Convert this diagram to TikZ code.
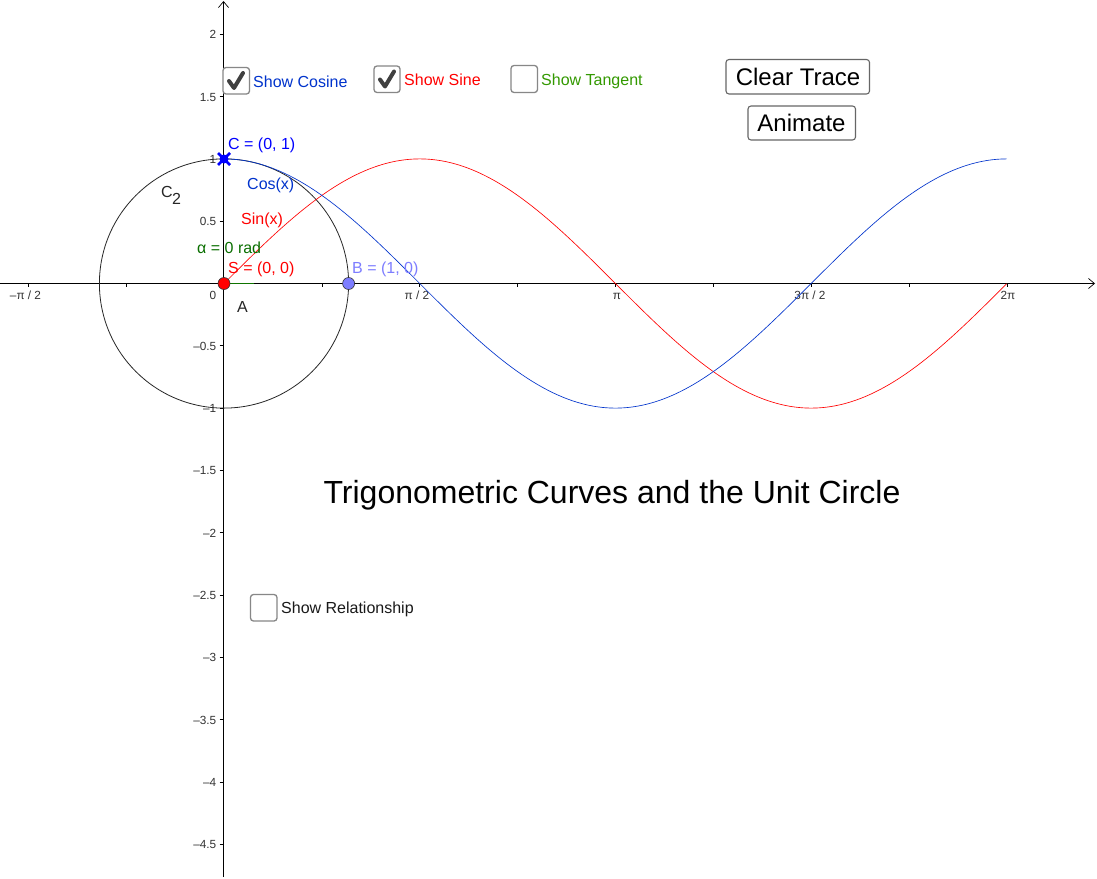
\documentclass[tikz,border=0pt]{standalone}
\usepackage{fontspec}
\usetikzlibrary{arrows.meta}
\setmainfont{Liberation Sans}
\definecolor{cosblue}{RGB}{0,51,204}
\definecolor{sinred}{RGB}{255,0,0}
\definecolor{tangreen}{RGB}{51,153,0}
\definecolor{anggreen}{RGB}{0,100,0}
\definecolor{pointb}{RGB}{125,125,255}
\definecolor{boxgray}{RGB}{135,135,135}
\definecolor{checkgray}{RGB}{64,64,64}
\begin{document}
\begin{tikzpicture}[x=1pt,y=-1pt,
  axisline/.style={black,line width=1pt,-{Straight Barb[length=6pt,width=10pt,line width=0.7pt]}},
  tickmark/.style={black,line width=0.7pt},
  ticktext/.style={font=\fontsize{11.8}{13}\selectfont,text=black!80,inner sep=0pt},
  lab/.style={font=\fontsize{16}{18}\selectfont,inner sep=0pt,anchor=west},
  curve/.style={line width=0.65pt,line join=round},
  cbox/.style={draw=boxgray,line width=1.3pt,rounded corners=3pt,fill=white},
  btn/.style={draw=black!60,line width=1.1pt,rounded corners=3pt,fill=white},
  btext/.style={font=\fontsize{24}{26}\selectfont,inner sep=0pt},
  checkm/.style={draw=checkgray,line width=4pt,line cap=round,line join=round},
  ptdot/.style={circle,draw=black!80,line width=0.6pt,minimum size=12pt,inner sep=0pt}
]
\useasboundingbox (0,0) rectangle (1097,878);
\fill[white] (0,0) rectangle (1097,878);
\def\Ox{224}\def\Oy{283.5}\def\U{124.6}

% axes
\coordinate (xstart) at (0,283.5);
\coordinate (xend) at (1095,283.5);
\coordinate (ystart) at (223.5,877);
\coordinate (yend) at (223.5,1);
\draw[axisline] (xstart) -- (xend);
\draw[axisline] (ystart) -- (yend);

% x ticks
\foreach \k in {-2,-1,1,2,...,8}
  \draw[tickmark] ({\Ox+\k*0.7854*\U},283.5) -- ({\Ox+\k*0.7854*\U},286.5);
% y ticks
\foreach \v in {-4.5,-4,...,2}
  \draw[tickmark] (219.5,{\Oy-\v*\U}) -- (223.5,{\Oy-\v*\U});

% x tick labels
\node[ticktext,anchor=base] (xm) at (25.5,299) {–π / 2};
\node[ticktext,anchor=base] (x0) at (213,299) {0};
\node[ticktext,anchor=base] (x1) at (417,299) {π / 2};
\node[ticktext,anchor=base] (x2) at (617,299) {π};
\node[ticktext,anchor=base] (x3) at (810,299) {3π / 2};
\node[ticktext,anchor=base] (x4) at (1008,299) {2π};

% y tick labels
\foreach \t/\v in {2/2,1.5/1.5,1/1,0.5/0.5,–0.5/-0.5,–1/-1,–1.5/-1.5,–2/-2,–2.5/-2.5,–3/-3,–3.5/-3.5,–4/-4,–4.5/-4.5}
  \node[ticktext,anchor=east] at (216.5,{\Oy-\v*\U+0.5}) {\t};

% circle
\draw[black!85,line width=0.8pt] (\Ox,\Oy) circle (\U);

% angle
\draw[anggreen!70!tangreen,line width=1pt] (\Ox,\Oy) -- (254,\Oy);

% curves
\draw[curve,sinred] plot[domain=0:6.2832,samples=160,smooth] ({\Ox+\x*\U},{\Oy-sin(\x r)*\U});
\draw[curve,cosblue] plot[domain=0:6.2832,samples=160,smooth] ({\Ox+\x*\U},{\Oy-cos(\x r)*\U});

% points
\node[ptdot,fill=sinred] (S) at (224,283.5) {};
\node[ptdot,fill=pointb] (B) at (348.6,283.5) {};
\node[circle,fill=blue,minimum size=9pt,inner sep=0pt] (C) at (224,159) {};
\draw[blue,line width=2.8pt] (218,153) -- (230,165) (218,165) -- (230,153);

% point and object labels
\node[lab,text=blue] (Clab) at (228,145) {C = (0, 1)};
\node[lab,text=cosblue] (coslab) at (247,185) {Cos(x)};
\node[lab,text=sinred] (sinlab) at (241,220) {Sin(x)};
\node[lab,text=anggreen!80!tangreen] (alab) at (197,247.5) {α = 0 rad};
\node[lab,text=sinred] (Slab) at (228,269.5) {S = (0, 0)};
\node[lab,text=pointb] (Blab) at (352,269.5) {B = (1, 0)};
\node[lab,text=black!85] (Alab) at (237,307) {A};
\node[lab,text=black!85] (Ctwo) at (161,191.5) {C};
\node[lab,text=black!85] (Ctwosub) at (172,199) {2};

% checkboxes
\draw[cbox] (223,67.5) rectangle (249.5,94);
\draw[checkm] (229,81) -- (234,88) -- (243,73);
\node[lab,text=cosblue] (c1) at (253,81.5) {Show Cosine};
\draw[cbox] (374,66) rectangle (400,92.5);
\draw[checkm] (380,79.5) -- (385,86.5) -- (394,71.5);
\node[lab,text=sinred] (c2) at (404,79.5) {Show Sine};
\draw[cbox] (511,65.5) rectangle (537.5,92.5);
\node[lab,text=tangreen] (c3) at (541,81) {Show Tangent};
\draw[cbox] (250.5,594.5) rectangle (277,621);
\node[lab,text=black!90] (c4) at (281,609.5) {Show Relationship};

% buttons
\draw[btn] (726,59.5) rectangle (869.5,94);
\node[btext] (b1) at (798,76.5) {Clear Trace};
\draw[btn] (748,106) rectangle (855.5,140);
\node[btext] (b2) at (801.5,122.5) {Animate};

% title
\node[font=\fontsize{32}{36}\selectfont,inner sep=0pt] (title) at (612,495) {Trigonometric Curves and the Unit Circle};
\end{tikzpicture}
\end{document}
